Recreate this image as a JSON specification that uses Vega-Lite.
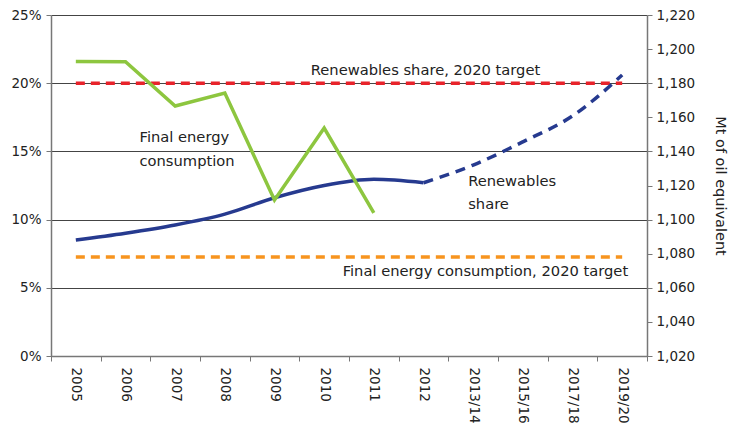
{
  "$schema": "https://vega.github.io/schema/vega-lite/v6.json",
  "autosize": {"type": "none"},
  "width": 596,
  "height": 341,
  "padding": {"left": 51, "top": 15, "right": 88, "bottom": 68},
  "background": "white",
  "config": {
    "font": "DejaVu Sans",
    "view": {"stroke": null},
    "axis": {"labelFont": "DejaVu Sans", "labelFontSize": 13.5, "labelColor": "#222", "titleFont": "DejaVu Sans", "titleFontWeight": "normal", "titleColor": "#222"}
  },
  "datasets": {
    "share": [
      {"year": "2005", "value": 8.5, "part": "actual"},
      {"year": "2006", "value": 9.0, "part": "actual"},
      {"year": "2007", "value": 9.6, "part": "actual"},
      {"year": "2008", "value": 10.4, "part": "actual"},
      {"year": "2009", "value": 11.6, "part": "actual"},
      {"year": "2010", "value": 12.5, "part": "actual"},
      {"year": "2011", "value": 12.95, "part": "actual"},
      {"year": "2012", "value": 12.7, "part": "actual"},
      {"year": "2012", "value": 12.7, "part": "projected"},
      {"year": "2013/14", "value": 14.0, "part": "projected"},
      {"year": "2015/16", "value": 15.7, "part": "projected"},
      {"year": "2017/18", "value": 17.6, "part": "projected"},
      {"year": "2019/20", "value": 20.6, "part": "projected"}
    ],
    "consumption": [
      {"year": "2005", "value": 1192.8},
      {"year": "2006", "value": 1192.6},
      {"year": "2007", "value": 1166.6},
      {"year": "2008", "value": 1174.2},
      {"year": "2009", "value": 1111.5},
      {"year": "2010", "value": 1153.7},
      {"year": "2011", "value": 1104.0}
    ],
    "shareTarget": [
      {"year": "2005", "value": 20},
      {"year": "2019/20", "value": 20}
    ],
    "consTarget": [
      {"year": "2005", "value": 1078},
      {"year": "2019/20", "value": 1078}
    ],
    "labelsCenter": [
      {"year": "2012", "value": 20.9, "text": "Renewables share, 2020 target"}
    ],
    "labelsFec": [
      {"year": "2006", "value": 16.0, "text": "Final energy"},
      {"year": "2006", "value": 14.25, "text": "consumption"}
    ],
    "labelsRen": [
      {"year": "2013/14", "value": 12.75, "text": "Renewables"},
      {"year": "2013/14", "value": 11.1, "text": "share"}
    ],
    "labelsRight": [
      {"year": "2019/20", "value": 6.15, "text": "Final energy consumption, 2020 target"}
    ]
  },
  "encoding": {
    "x": {
      "field": "year",
      "type": "ordinal",
      "sort": ["2005", "2006", "2007", "2008", "2009", "2010", "2011", "2012", "2013/14", "2015/16", "2017/18", "2019/20"],
      "scale": {"type": "band", "paddingInner": 0, "paddingOuter": 0, "domain": ["2005", "2006", "2007", "2008", "2009", "2010", "2011", "2012", "2013/14", "2015/16", "2017/18", "2019/20"]},
      "axis": {"title": null, "labelAngle": 90, "labelAlign": "left", "labelBaseline": "middle", "labelPadding": 6, "tickBand": "extent", "tickSize": 5, "tickColor": "#777", "domainColor": "#777", "domainWidth": 1.5, "grid": false}
    }
  },
  "layer": [
    {
      "encoding": {
        "y": {
          "type": "quantitative",
          "scale": {"domain": [0, 25], "nice": false, "zero": true},
          "axis": {"title": null, "values": [0, 5, 10, 15, 20, 25], "labelExpr": "datum.value + '%'", "grid": true, "gridColor": "#444", "gridWidth": 1, "tickSize": 5, "tickColor": "#777", "domainColor": "#777", "domainWidth": 1.5, "labelPadding": 5}
        }
      },
      "layer": [
        {
          "data": {"name": "shareTarget"},
          "mark": {"type": "line", "color": "#e8232b", "strokeWidth": 3.5, "strokeDash": [9, 6]},
          "encoding": {"y": {"field": "value", "type": "quantitative"}}
        },
        {
          "data": {"name": "share"},
          "transform": [{"filter": "datum.part == 'actual'"}],
          "mark": {"type": "line", "color": "#263a8f", "strokeWidth": 3.5, "interpolate": "monotone"},
          "encoding": {"y": {"field": "value", "type": "quantitative"}}
        },
        {
          "data": {"name": "share"},
          "transform": [{"filter": "datum.part == 'projected'"}],
          "mark": {"type": "line", "color": "#263a8f", "strokeWidth": 3.5, "interpolate": "monotone", "strokeDash": [10, 7]},
          "encoding": {"y": {"field": "value", "type": "quantitative"}}
        },
        {
          "data": {"name": "labelsCenter"},
          "mark": {"type": "text", "fontSize": 14.7, "color": "#222", "baseline": "middle", "align": "center", "dx": 2},
          "encoding": {
            "y": {"field": "value", "type": "quantitative"},
            "text": {"field": "text"}
          }
        },
        {
          "data": {"name": "labelsFec"},
          "mark": {"type": "text", "fontSize": 14.7, "color": "#222", "baseline": "middle", "align": "left", "dx": 14},
          "encoding": {
            "y": {"field": "value", "type": "quantitative"},
            "text": {"field": "text"}
          }
        },
        {
          "data": {"name": "labelsRen"},
          "mark": {"type": "text", "fontSize": 14.7, "color": "#222", "baseline": "middle", "align": "left", "dx": -5},
          "encoding": {
            "y": {"field": "value", "type": "quantitative"},
            "text": {"field": "text"}
          }
        },
        {
          "data": {"name": "labelsRight"},
          "mark": {"type": "text", "fontSize": 14.7, "color": "#222", "baseline": "middle", "align": "right", "dx": 6},
          "encoding": {
            "y": {"field": "value", "type": "quantitative"},
            "text": {"field": "text"}
          }
        }
      ]
    },
    {
      "encoding": {
        "y": {
          "type": "quantitative",
          "scale": {"domain": [1020, 1220], "nice": false, "zero": false},
          "axis": {"orient": "right", "title": "Mt of oil equivalent", "titleFontSize": 14.5, "titleAngle": 90, "titlePadding": 18, "values": [1020, 1040, 1060, 1080, 1100, 1120, 1140, 1160, 1180, 1200, 1220], "format": ",.0f", "grid": false, "tickSize": 5, "tickColor": "#777", "domainColor": "#777", "domainWidth": 1.5, "labelPadding": 4}
        }
      },
      "layer": [
        {
          "data": {"name": "consTarget"},
          "mark": {"type": "line", "color": "#f7941e", "strokeWidth": 3.5, "strokeDash": [9, 6]},
          "encoding": {"y": {"field": "value", "type": "quantitative"}}
        },
        {
          "data": {"name": "consumption"},
          "mark": {"type": "line", "color": "#8dc63f", "strokeWidth": 3.5},
          "encoding": {"y": {"field": "value", "type": "quantitative"}}
        }
      ]
    }
  ],
  "resolve": {"scale": {"y": "independent"}}
}
